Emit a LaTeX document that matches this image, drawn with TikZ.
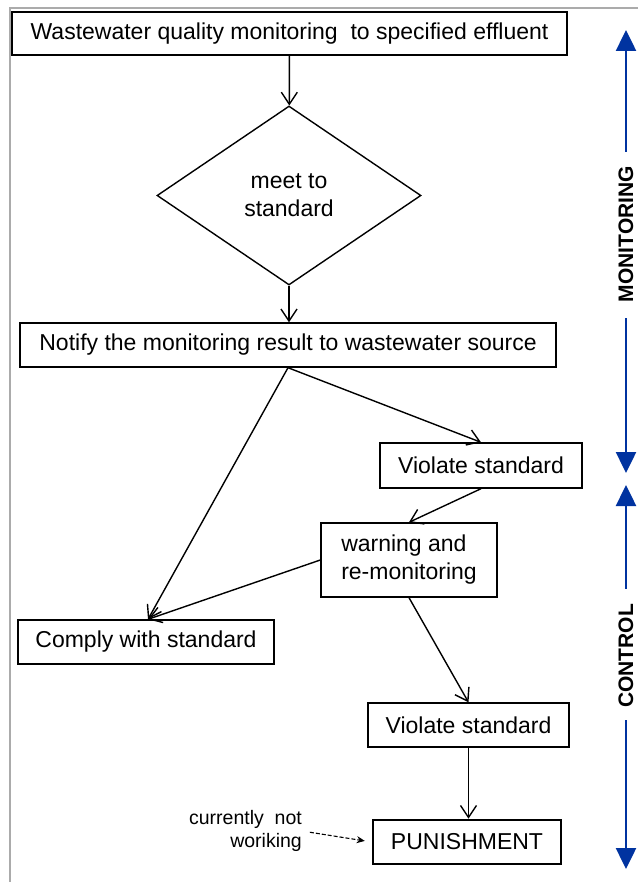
\documentclass[tikz,border=0pt]{standalone}
\usepackage{fontspec}
\setmainfont{Liberation Sans}
\usetikzlibrary{arrows.meta,positioning,shapes.geometric}
\definecolor{phaseblue}{RGB}{0,51,160}
\tikzset{
  box/.style={draw,line width=1.4pt,minimum height=44pt,inner sep=0pt,align=center,font=\fontsize{23}{28}\selectfont},
  dec/.style={box,diamond,minimum width=264pt,minimum height=179pt},
  arr/.style={-{Straight Barb[length=12pt,width=16pt]},line width=1.4pt},
  note/.style={align=right,inner sep=0pt,font=\fontsize{19.5}{23}\selectfont},
  dsh/.style={-{Stealth[length=8pt,width=7pt]},line width=1.1pt,dash pattern=on 4pt off 2pt},
  phase/.style={rotate=90,inner sep=0pt,font=\bfseries\fontsize{21}{24}\selectfont},
  span/.style={-{Triangle[length=21pt,width=20pt]},line width=2.5pt,phaseblue}
}

\begin{document}
\begin{tikzpicture}[x=1pt,y=-1pt]
\useasboundingbox (0,0) rectangle (638,882);
% frame
\draw[black!33,line width=2pt] (638,8) -- (10,8) -- (10,882);
% flow
\node[box,minimum width=555pt,minimum height=43pt] (wq) at (289.5,33.5) {Wastewater quality monitoring~ to specified effluent};
\node[dec] (meet) at (289,195.5) {meet to\\standard};
\node[box,minimum width=536pt] (notify) at (288,345) {Notify the monitoring result to wastewater source};
\node[box,minimum width=202pt,minimum height=45pt] (viol1) at (481,465.5) {Violate standard};
\node[box,minimum width=176pt,minimum height=74pt,align=left] (warn) at (409,560) {warning and\\re-monitoring};
\node[box,minimum width=256pt] (comply) at (146,642) {Comply with standard};
\node[box,minimum width=201pt] (viol2) at (468.5,725) {Violate standard};
\node[box,minimum width=188pt,line width=2.6pt] (pun) at (467,842) {PUNISHMENT};
\node[note,anchor=east] (cnw) at (302,831) {currently~ not\\woriking};
\draw[arr] (wq) -- (meet);
\draw[arr] (meet.south) -- (meet.south |- notify.north);
\draw[arr] (notify.south) -- (viol1.north);
\draw[arr] (notify.south) -- ([xshift=2pt]comply.north);
\draw[arr] (viol1.south) -- (warn.north);
\draw[arr] (warn.west) -- ([xshift=2pt]comply.north);
\draw[arr] (warn.south) -- (viol2.north);
\draw[arr] (viol2.south) -- (viol2.south |- pun.north);
\draw[dsh,shorten <=8pt,shorten >=7pt] (cnw.east) -- (pun.west);
% phases
\coordinate (mtop) at (626,30);
\coordinate (mbot) at (626,473);
\coordinate (ctop) at (626,485);
\coordinate (cbot) at (626,869);
\node[phase] (mon) at (626,234) {MONITORING};
\node[phase] (ctl) at (626,656) {CONTROL};
\draw[span,shorten <=14pt] (mon.east) -- (mtop);
\draw[span,shorten <=16pt] (mon.west) -- (mbot);
\draw[span,shorten <=15pt] (ctl.east) -- (ctop);
\draw[span,shorten <=12pt] (ctl.west) -- (cbot);
\end{tikzpicture}
\end{document}
